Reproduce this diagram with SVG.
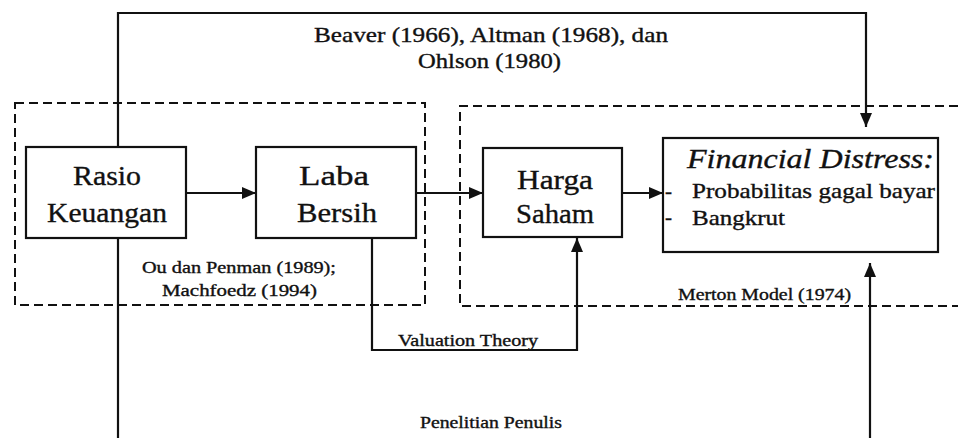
<svg xmlns="http://www.w3.org/2000/svg" width="958" height="438" viewBox="0 0 958 438">
<style>
text{font-family:"Liberation Serif",Tinos,"Times New Roman",Times,"Noto Serif",serif;fill:#111;stroke:#111;stroke-width:0.35}
.box{fill:#fff;stroke:#111;stroke-width:2.2}
.dash{fill:none;stroke:#111;stroke-width:2;stroke-dasharray:9 5}
.ln{fill:none;stroke:#111;stroke-width:2.2}
.big{font-size:28px;text-anchor:middle}
.mid{font-size:21px}
.sm{font-size:16px}
</style>
<defs>
<marker id="ah" viewBox="0 0 14 12" refX="14" refY="6" markerWidth="14" markerHeight="12" markerUnits="userSpaceOnUse" orient="auto">
<path d="M0,0 L14,6 L0,12 Z" fill="#111"/>
</marker>
</defs>
<rect width="958" height="438" fill="#fff"/>
<g id="groups">
<rect class="dash" x="15" y="103" width="410" height="202"/>
<path class="dash" d="M958,106 H460 V306 H958"/>
</g>
<g id="connectors">
<path class="ln" d="M118,147 V13 H866 V127" marker-end="url(#ah)"/>
<path class="ln" d="M186,193 H256" marker-end="url(#ah)"/>
<path class="ln" d="M416,193 H483" marker-end="url(#ah)"/>
<path class="ln" d="M622,193 H663" marker-end="url(#ah)"/>
<path class="ln" d="M372,238 V350 H577 V238" marker-end="url(#ah)"/>
<path class="ln" d="M118,238 V438"/>
<path class="ln" d="M870,438 V263" marker-end="url(#ah)"/>
</g>
<g id="rasio">
<rect class="box" x="26" y="147" width="160" height="91"/>
<text class="big" x="107" y="185" textLength="68" lengthAdjust="spacingAndGlyphs">Rasio</text>
<text class="big" x="107" y="222" textLength="120" lengthAdjust="spacingAndGlyphs">Keuangan</text>
</g>
<g id="laba">
<rect class="box" x="256" y="147" width="160" height="91"/>
<text class="big" x="334" y="185" textLength="70" lengthAdjust="spacingAndGlyphs">Laba</text>
<text class="big" x="337" y="222" textLength="80" lengthAdjust="spacingAndGlyphs">Bersih</text>
</g>
<g id="harga">
<rect class="box" x="483" y="148" width="139" height="89"/>
<text class="big" x="555" y="189" textLength="76" lengthAdjust="spacingAndGlyphs">Harga</text>
<text class="big" x="555" y="223" textLength="78" lengthAdjust="spacingAndGlyphs">Saham</text>
</g>
<g id="financial-distress">
<rect class="box" x="663" y="138" width="275" height="114"/>
<text x="687" y="168" font-size="27" font-style="italic" textLength="247" lengthAdjust="spacingAndGlyphs">Financial Distress:</text>
<text class="mid" x="665" y="198">-</text>
<text class="mid" x="692" y="198" textLength="243" lengthAdjust="spacingAndGlyphs">Probabilitas gagal bayar</text>
<text class="mid" x="665" y="224">-</text>
<text class="mid" x="692" y="225" textLength="93" lengthAdjust="spacingAndGlyphs">Bangkrut</text>
</g>
<g id="labels">
<text class="mid" x="314" y="42" textLength="354" lengthAdjust="spacingAndGlyphs">Beaver (1966), Altman (1968), dan</text>
<text class="mid" x="418" y="68" textLength="143" lengthAdjust="spacingAndGlyphs">Ohlson (1980)</text>
<text class="sm" x="142" y="273" textLength="194" lengthAdjust="spacingAndGlyphs">Ou dan Penman (1989);</text>
<text class="sm" x="162" y="296" textLength="155" lengthAdjust="spacingAndGlyphs">Machfoedz  (1994)</text>
<text class="sm" x="398" y="346" textLength="140" lengthAdjust="spacingAndGlyphs">Valuation Theory</text>
<text class="sm" x="678" y="300" textLength="173" lengthAdjust="spacingAndGlyphs">Merton Model (1974)</text>
<text class="sm" x="420" y="428" textLength="142" lengthAdjust="spacingAndGlyphs">Penelitian Penulis</text>
</g>
</svg>
